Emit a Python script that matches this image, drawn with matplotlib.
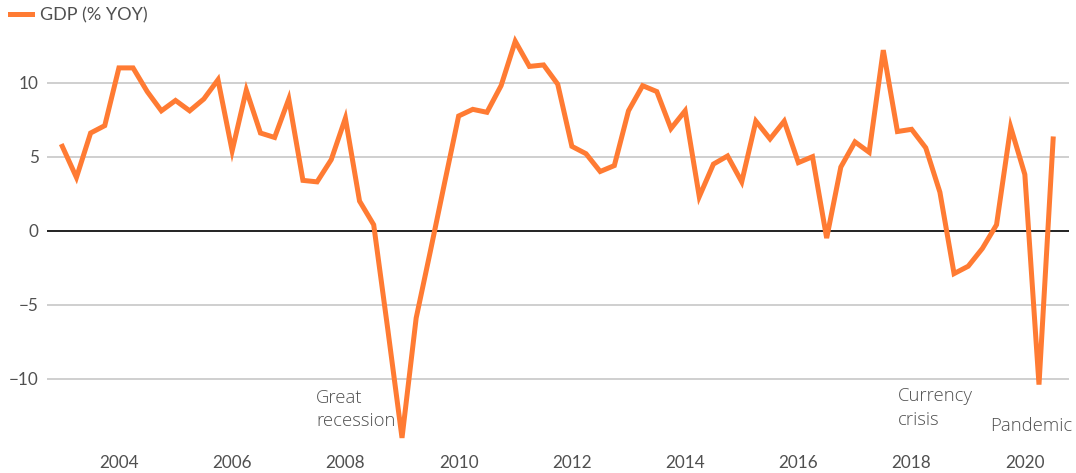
import matplotlib
matplotlib.use("Agg")
import matplotlib.pyplot as plt
from matplotlib.lines import Line2D
import numpy as np

# Quarterly GDP growth, % YoY, 2003Q1 .. 2020Q3
start_year = 2003.0
gdp_yoy = [
    5.7, 3.6, 6.6, 7.1,      # 2003
    11.0, 11.0, 9.4, 8.1,    # 2004
    8.8, 8.1, 8.9, 10.2,     # 2005
    5.4, 9.5, 6.6, 6.3,      # 2006
    8.9, 3.4, 3.3, 4.8,      # 2007
    7.6, 2.0, 0.4, -6.7,     # 2008
    -14.0, -5.9, -1.4, 3.2,  # 2009
    7.75, 8.2, 8.0, 9.8,     # 2010
    12.8, 11.1, 11.2, 9.9,   # 2011
    5.7, 5.2, 4.0, 4.4,      # 2012
    8.1, 9.8, 9.4, 6.9,      # 2013
    8.1, 2.3, 4.5, 5.05,     # 2014
    3.3, 7.4, 6.2, 7.4,      # 2015
    4.6, 5.0, -0.5, 4.3,     # 2016
    6.0, 5.3, 12.2, 6.7,     # 2017
    6.85, 5.6, 2.6, -2.9,    # 2018
    -2.4, -1.2, 0.4, 7.0,    # 2019
    3.8, -10.4, 6.2,         # 2020
]
x_ticks = [2004, 2006, 2008, 2010, 2012, 2014, 2016, 2018, 2020]
y_ticks = [-10, -5, 0, 5, 10]
annotations = [
    ("Great\nrecession", 2007.48, -12.08),
    ("Currency\ncrisis", 2017.75, -11.98),
    ("Pandemic", 2019.39, -13.2),
]
series_label = "GDP (% YOY)"

years = start_year + 0.25 * np.arange(len(gdp_yoy))

orange = "#ff7b33"
text_col = "#505050"
plt.rcParams["font.family"] = ["Lato", "DejaVu Sans"]

fig = plt.figure(figsize=(10.76, 4.73), dpi=100)
ax = fig.add_axes([47 / 1076, 1 - 445.3 / 473, (1069 - 47) / 1076, (445.3 - 30.9) / 473])
ax.set_xlim(2002.73, 2020.78)
ax.set_ylim(-14.5, 13.5)

for yv in y_ticks:
    if yv == 0:
        ax.axhline(0, color="#111111", lw=1.3, zorder=2)
    else:
        ax.axhline(yv, color="#cccccc", lw=1.3, zorder=1)

ax.plot(years, gdp_yoy, color=orange, lw=3.6, solid_joinstyle="miter", zorder=3, clip_on=False)

ax.set_xticks(x_ticks)
ax.set_xticklabels([str(v) for v in x_ticks])
ax.set_yticks(y_ticks)
ax.set_yticklabels([str(v).replace("-", "\u2212") for v in y_ticks])
ax.tick_params(axis="both", length=0, labelsize=12.3, labelcolor=text_col)
ax.tick_params(axis="y", pad=6)
ax.tick_params(axis="x", pad=7)
for s in ax.spines.values():
    s.set_visible(False)
ax.set_facecolor("none")

for txt, xv, yv in annotations:
    ax.text(xv, yv, txt, ha="left", va="center", fontsize=13.3,
            family=["Open Sans", "DejaVu Sans"], fontweight="light",
            color=text_col, linespacing=1.38, clip_on=False)

# legend
fig.add_artist(Line2D([10 / 1076, 32 / 1076], [1 - 14 / 473, 1 - 14 / 473],
                      color=orange, lw=3.6, transform=fig.transFigure))
fig.text(40 / 1076, 1 - 15 / 473, series_label, ha="left", va="center",
         fontsize=13, color=text_col)

fig.savefig("out.png", dpi=100)
